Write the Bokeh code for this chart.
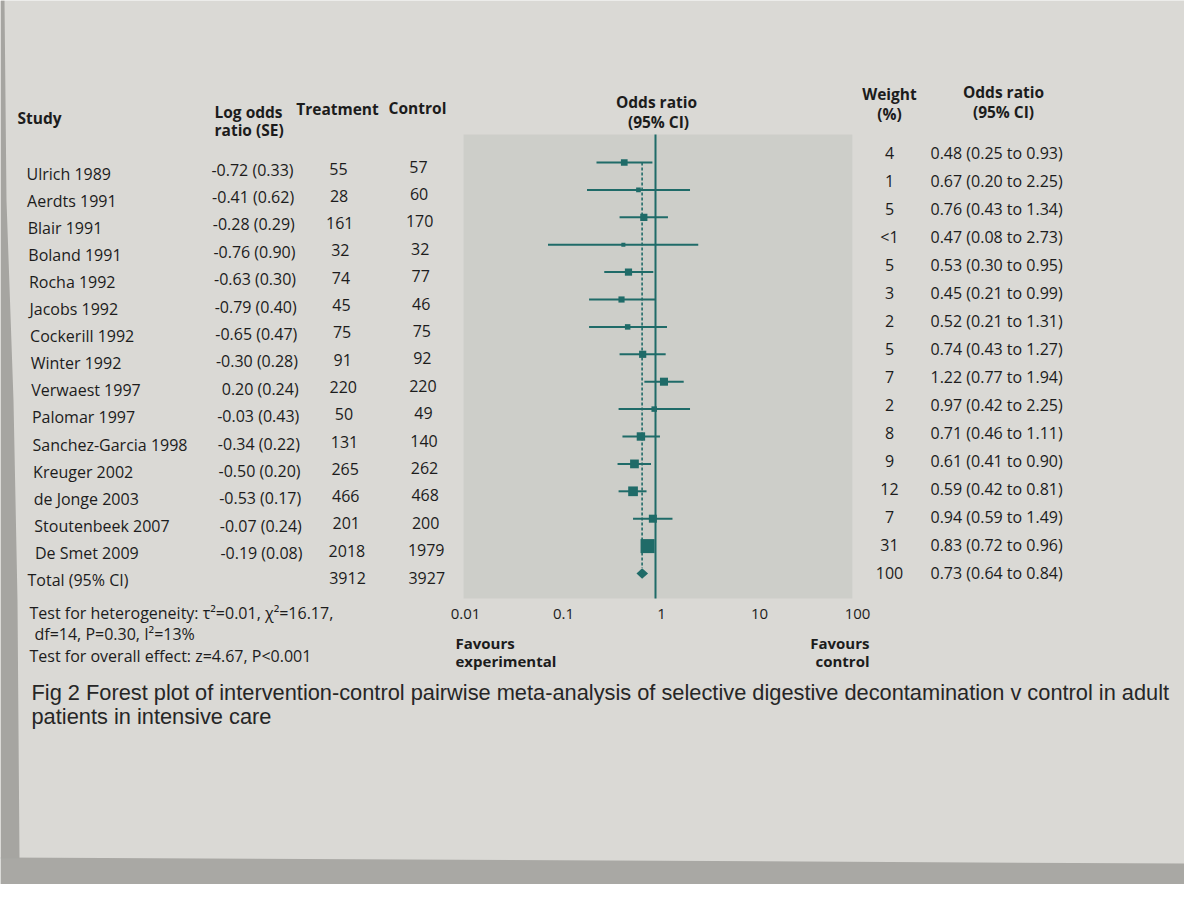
from bokeh.plotting import figure
from bokeh.models import Range1d, LogScale
from bokeh.core.properties import value
from bokeh.embed import file_html
from bokeh.resources import INLINE

# ---------------- data ----------------
studies = ["Ulrich 1989", "Aerdts 1991", "Blair 1991", "Boland 1991", "Rocha 1992",
           "Jacobs 1992", "Cockerill 1992", "Winter 1992", "Verwaest 1997", "Palomar 1997",
           "Sanchez-Garcia 1998", "Kreuger 2002", "de Jonge 2003", "Stoutenbeek 2007",
           "De Smet 2009"]
log_or = [-0.72, -0.41, -0.28, -0.76, -0.63, -0.79, -0.65, -0.30, 0.20, -0.03,
          -0.34, -0.50, -0.53, -0.07, -0.19]
log_se = [0.33, 0.62, 0.29, 0.90, 0.30, 0.40, 0.47, 0.28, 0.24, 0.43,
          0.22, 0.20, 0.17, 0.24, 0.08]
treatment = [55, 28, 161, 32, 74, 45, 75, 91, 220, 50, 131, 265, 466, 201, 2018]
control = [57, 60, 170, 32, 77, 46, 75, 92, 220, 49, 140, 262, 468, 200, 1979]
weight_pct = [4, 1, 5, 0.5, 5, 3, 2, 5, 7, 2, 8, 9, 12, 7, 31]
odds = [0.48, 0.67, 0.76, 0.47, 0.53, 0.45, 0.52, 0.74, 1.22, 0.97, 0.71, 0.61, 0.59, 0.94, 0.83]
ci_lo = [0.25, 0.20, 0.43, 0.08, 0.30, 0.21, 0.21, 0.43, 0.77, 0.42, 0.46, 0.41, 0.42, 0.59, 0.72]
ci_hi = [0.93, 2.25, 1.34, 2.73, 0.95, 0.99, 1.31, 1.27, 1.94, 2.25, 1.11, 0.90, 0.81, 1.49, 0.96]

total_label = "Total (95% CI)"
total_treatment = 3912
total_control = 3927
total_weight = 100
total_or = 0.73
total_lo = 0.64
total_hi = 0.84

axis_ticks = [0.01, 0.1, 1, 10, 100]
axis_labels = ["0.01", "0.1", "1", "10", "100"]

notes = ["Test for heterogeneity: \u03c4\u00b2=0.01, \u03c7\u00b2=16.17,",
         "df=14, P=0.30, I\u00b2=13%",
         "Test for overall effect: z=4.67, P<0.001"]
caption = ["Fig 2 Forest plot of intervention-control pairwise meta-analysis of selective digestive decontamination v control in adult",
           "patients in intensive care"]

# ---------------- style ----------------
BG = "#dad9d5"
PANEL = "#cdcec9"
TEAL = "#1f6b68"
TXT = "#1c1c1c"
FONT = value("Open Sans")
CAPFONT = value("Liberation Sans")

n = len(studies)
rows = list(range(n))
rows_t = list(range(n + 1))

# page geometry: data units == screen pixels of the picture
X0, X1, Y0, Y1 = 0, 1184, 0, 884
p = figure(width=X1 - X0, height=Y1 - Y0, x_range=Range1d(X0, X1), y_range=Range1d(Y1, Y0),
           output_backend="svg", toolbar_location=None, min_border=0,
           x_axis_location=None, y_axis_location=None)
p.grid.visible = False
p.outline_line_color = None
p.background_fill_color = BG
p.border_fill_color = BG

# log odds-ratio scale: OR=1 at px 655, 98 px per decade
ONE_PX, DEC_PX = 655.0, 98.0
p.extra_x_ranges = {"or": Range1d(10 ** ((X0 - ONE_PX) / DEC_PX), 10 ** ((X1 - ONE_PX) / DEC_PX))}
p.extra_x_scales = {"or": LogScale()}


def row_range(y_first, step):
    return Range1d((Y1 - y_first) / step, (Y0 - y_first) / step)


p.extra_y_ranges = {
    "plot": row_range(162, 27.4),
    "names": row_range(173, 27.1),
    "lor": row_range(169, 27.4),
    "trt": row_range(168, 27.3),
    "ctl": row_range(166, 27.4),
    "right": row_range(152, 28.0),
}

# photo edges (screen bezel)
p.patch(x=[X0, X1, X1, X0], y=[857, 863, Y1, Y1], color="#a9a8a4", line_color=None)
p.patch(x=[X0, 4, 6, 13, 17, 19, X0], y=[Y0, Y0, 200, 400, 600, 858, 858], color="#a6a5a1", line_color=None)

# plot panel
p.quad(left=axis_ticks[0] * 1.1, right=axis_ticks[-1] * 1.02, top=134, bottom=598,
       x_range_name="or", color=PANEL, line_color=None)
p.segment(x0=[1], x1=[1], y0=[134], y1=[598], x_range_name="or", line_color=TEAL, line_width=2)
p.segment(x0=[total_or], x1=[total_or], y0=[0], y1=[n - 0.2], x_range_name="or", y_range_name="plot",
          line_color=TEAL, line_width=1.6, line_dash="3 2")
p.segment(x0=ci_lo, x1=ci_hi, y0=rows, y1=rows, x_range_name="or", y_range_name="plot",
          line_color=TEAL, line_width=2)
sizes = [2.6 + 2.05 * (w ** 0.5) for w in weight_pct]
p.scatter(x=odds, y=rows, size=sizes, marker="square", x_range_name="or", y_range_name="plot",
          color=TEAL, line_color=None)
p.patch(x=[total_lo, total_or, total_hi, total_or], y=[n, n - 0.19, n, n + 0.19],
        x_range_name="or", y_range_name="plot", color=TEAL, line_color=None)

# headers
hdr = dict(text_font=FONT, text_font_style="bold", text_font_size="15.5px", text_color=TXT,
           text_baseline="middle")
p.text(x=[17], y=[117], text=["Study"], text_align="left", **hdr)
p.text(x=[214, 214], y=[111, 129], text=["Log odds", "ratio (SE)"], text_align="left", **hdr)
p.text(x=[337], y=[108], text=["Treatment"], text_align="center", **hdr)
p.text(x=[417], y=[107], text=["Control"], text_align="center", **hdr)
p.text(x=[656, 658], y=[101, 121], text=["Odds ratio", "(95% CI)"], text_align="center", **hdr)
p.text(x=[889, 889], y=[93, 113], text=["Weight", "(%)"], text_align="center", **hdr)
p.text(x=[1003, 1003], y=[91, 111], text=["Odds ratio", "(95% CI)"], text_align="center", **hdr)

# table body
body = dict(text_font=FONT, text_font_size="16px", text_color=TXT, text_baseline="middle")
name_x = [26 + 0.6 * i for i in rows] + [27]
p.text(x=name_x, y=rows_t, text=studies + [total_label], y_range_name="names", text_align="left", **body)
p.text(x=[293 + 0.64 * i for i in rows], y=rows, text=[f"{a:.2f} ({b:.2f})" for a, b in zip(log_or, log_se)],
       y_range_name="lor", text_align="right", **body)
p.text(x=[338 + 0.6 * i for i in rows_t], y=rows_t, text=[str(v) for v in treatment + [total_treatment]],
       y_range_name="trt", text_align="center", **body)
p.text(x=[418 + 0.55 * i for i in rows_t], y=rows_t, text=[str(v) for v in control + [total_control]],
       y_range_name="ctl", text_align="center", **body)
wlab = [("<1" if w < 1 else str(w)) for w in weight_pct] + [str(total_weight)]
p.text(x=[889] * (n + 1), y=rows_t, text=wlab, y_range_name="right", text_align="center", **body)
ortxt = [f"{o:.2f} ({l:.2f} to {h:.2f})" for o, l, h in zip(odds + [total_or], ci_lo + [total_lo], ci_hi + [total_hi])]
p.text(x=[930] * (n + 1), y=rows_t, text=ortxt, y_range_name="right", text_align="left", **body)

# axis labels
p.text(x=axis_ticks, y=[613] * len(axis_ticks), text=axis_labels, x_range_name="or", x_offset=6,
       text_align="center", text_font=FONT, text_font_size="15px", text_color=TXT, text_baseline="middle")
fav = dict(text_font=FONT, text_font_style="bold", text_font_size="15px", text_color=TXT, text_baseline="middle")
p.text(x=[455, 455], y=[642, 660], text=["Favours", "experimental"], text_align="left", **fav)
p.text(x=[869, 869], y=[642, 660], text=["Favours", "control"], text_align="right", **fav)

# notes
p.text(x=[29, 34, 29], y=[612, 633, 655], text=notes, text_align="left", text_font=FONT,
       text_font_size="16px", text_color=TXT, text_baseline="middle")

# caption
p.text(x=[31, 31], y=[692, 716], text=caption, text_align="left", text_font=CAPFONT,
       text_font_size="21.8px", text_color="#262626", text_baseline="middle")

open("out.html", "w").write(file_html(p, INLINE))
